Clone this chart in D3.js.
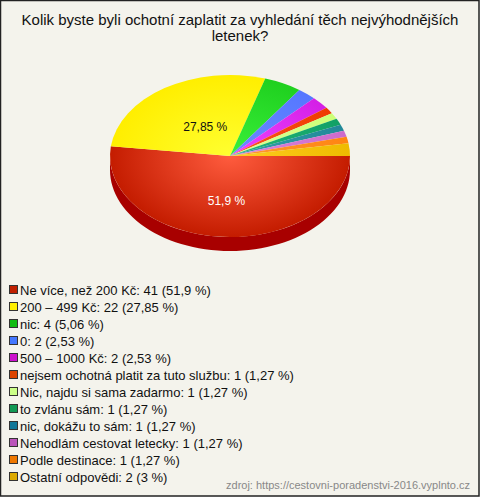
<!DOCTYPE html>
<html><head><meta charset="utf-8">
<script src="https://cdn.jsdelivr.net/npm/d3@7"></script>
<style>html,body{margin:0;padding:0;background:#fff;}svg{display:block;font-family:"Liberation Sans",Arial,sans-serif;}</style>
</head><body>
<script>
const titleLines = ["Kolik byste byli ochotní zaplatit za vyhledání těch nejvýhodnějších", "letenek?"];
const categories = ["Ne více, než 200 Kč", "200 – 499 Kč", "nic", "0", "500 – 1000 Kč", "nejsem ochotná platit za tuto službu", "Nic, najdu si sama zadarmo", "to zvlánu sám", "nic, dokážu to sám", "Nehodlám cestovat letecky", "Podle destinace", "Ostatní odpovědi"];
const counts = [41, 22, 4, 2, 2, 1, 1, 1, 1, 1, 1, 2];
const percentLabels = ["51,9 %", "27,85 %", "5,06 %", "2,53 %", "2,53 %", "1,27 %", "1,27 %", "1,27 %", "1,27 %", "1,27 %", "1,27 %", "3 %"];
const pieColors = ["#e2300f", "#ffee00", "#1fd01f", "#5577ff", "#d41fe6", "#ee3a00", "#ccff77", "#11a066", "#228899", "#cc6acc", "#ff8411", "#eebb00"];
const pieCenterColors = ["#ff5c3e", "#ffff30", "#3af03a", "#6a8aff", "#ee44ff", "#ff5520", "#ddff99", "#22b878", "#33a0aa", "#dd88dd", "#ff9a33", "#ffcc20"];
const sideColors = ["#a80000", "#c8b400", "#109a10", "#3355cc", "#9a10aa", "#b02800", "#99cc55", "#0a7a4a", "#1a6677", "#995099", "#cc6600", "#bb8800"];
const legendColors = ["#c02000", "#ffee00", "#11bb11", "#4477ff", "#cc11cc", "#dd4400", "#ccff88", "#119955", "#117799", "#bb55bb", "#ee7700", "#ddaa00"];
const sourceText = "zdroj: https://cestovni-poradenstvi-2016.vyplnto.cz";

const W = 480, H = 497;
const svg = d3.select("body").append("svg").attr("width", W).attr("height", H);
svg.append("rect").attr("x", 0.5).attr("y", 0.5).attr("width", W - 1.5).attr("height", H - 1.5)
  .attr("fill", "#f4f3ec").attr("stroke", "#222").attr("stroke-width", 1.5);

svg.append("g").selectAll("text").data(titleLines).join("text")
  .attr("x", 240).attr("y", (d, i) => 25 + i * 16)
  .attr("text-anchor", "middle").attr("font-size", 15).attr("fill", "#111").text(d => d);

const cx = 230, cy = 156, rx = 120, ry = 81, depth = 14;
const pie = d3.pie().sort(null).value(d => d).startAngle(Math.PI / 2).endAngle(Math.PI / 2 + 2 * Math.PI);
const arcs = pie(counts);
const defs = svg.append("defs");

// side (front half only)
const side = svg.append("g");
const pt = (a, dy) => [cx + rx * Math.sin(a), cy - ry * Math.cos(a) + dy];
arcs.forEach((a, i) => {
  const s = Math.max(a.startAngle, Math.PI / 2), e = Math.min(a.endAngle, 3 * Math.PI / 2);
  if (e <= s) return;
  const top = d3.range(0, 61).map(k => pt(s + (e - s) * k / 60, 0));
  const bot = d3.range(60, -1, -1).map(k => pt(s + (e - s) * k / 60, depth));
  side.append("path").attr("d", d3.line()(top.concat(bot)) + "Z").attr("fill", sideColors[i]);
});

// gradients
arcs.forEach((a, i) => {
  const g = defs.append("radialGradient").attr("id", "g" + i).attr("gradientUnits", "userSpaceOnUse")
    .attr("cx", 0).attr("cy", 0).attr("r", rx).attr("fx", 0).attr("fy", 0);
  g.append("stop").attr("offset", "0%").attr("stop-color", pieCenterColors[i]);
  g.append("stop").attr("offset", "100%").attr("stop-color", i === 0 ? "#c41c00" : pieColors[i]);
});

const arc = d3.arc().innerRadius(0).outerRadius(rx);
const topG = svg.append("g").attr("transform", `translate(${cx},${cy}) scale(1,${ry / rx})`);
topG.selectAll("path").data(arcs).join("path").attr("d", arc).attr("fill", (d, i) => `url(#g${i})`);

// labels for the two largest slices
const labelIdx = [0, 1];
svg.append("g").selectAll("text").data(labelIdx).join("text")
  .attr("x", i => { const m = (arcs[i].startAngle + arcs[i].endAngle) / 2; return cx + rx * 0.5 * Math.sin(m) + (i === 0 ? 0 : 8); })
  .attr("y", i => { const m = (arcs[i].startAngle + arcs[i].endAngle) / 2; return cy - ry * 0.5 * Math.cos(m) + 9; })
  .attr("text-anchor", "middle").attr("font-size", 12)
  .attr("fill", i => i === 0 ? "#fff" : "#111").text(i => percentLabels[i]);

// legend
const lg = svg.append("g");
const rows = lg.selectAll("g").data(categories).join("g").attr("transform", (d, i) => `translate(0,${290 + i * 17})`);
rows.append("rect").attr("x", 9.5).attr("y", -4.5).attr("width", 8).attr("height", 8)
  .attr("fill", (d, i) => legendColors[i]).attr("stroke", "#333").attr("stroke-width", 1);
rows.append("text").attr("x", 20).attr("y", 4.5).attr("font-size", 13).attr("fill", "#111")
  .text((d, i) => `${d}: ${counts[i]} (${percentLabels[i]})`);

svg.append("text").attr("x", 470).attr("y", 489).attr("text-anchor", "end").attr("font-size", 11)
  .attr("fill", "#888").text(sourceText);
</script>
</body></html>
